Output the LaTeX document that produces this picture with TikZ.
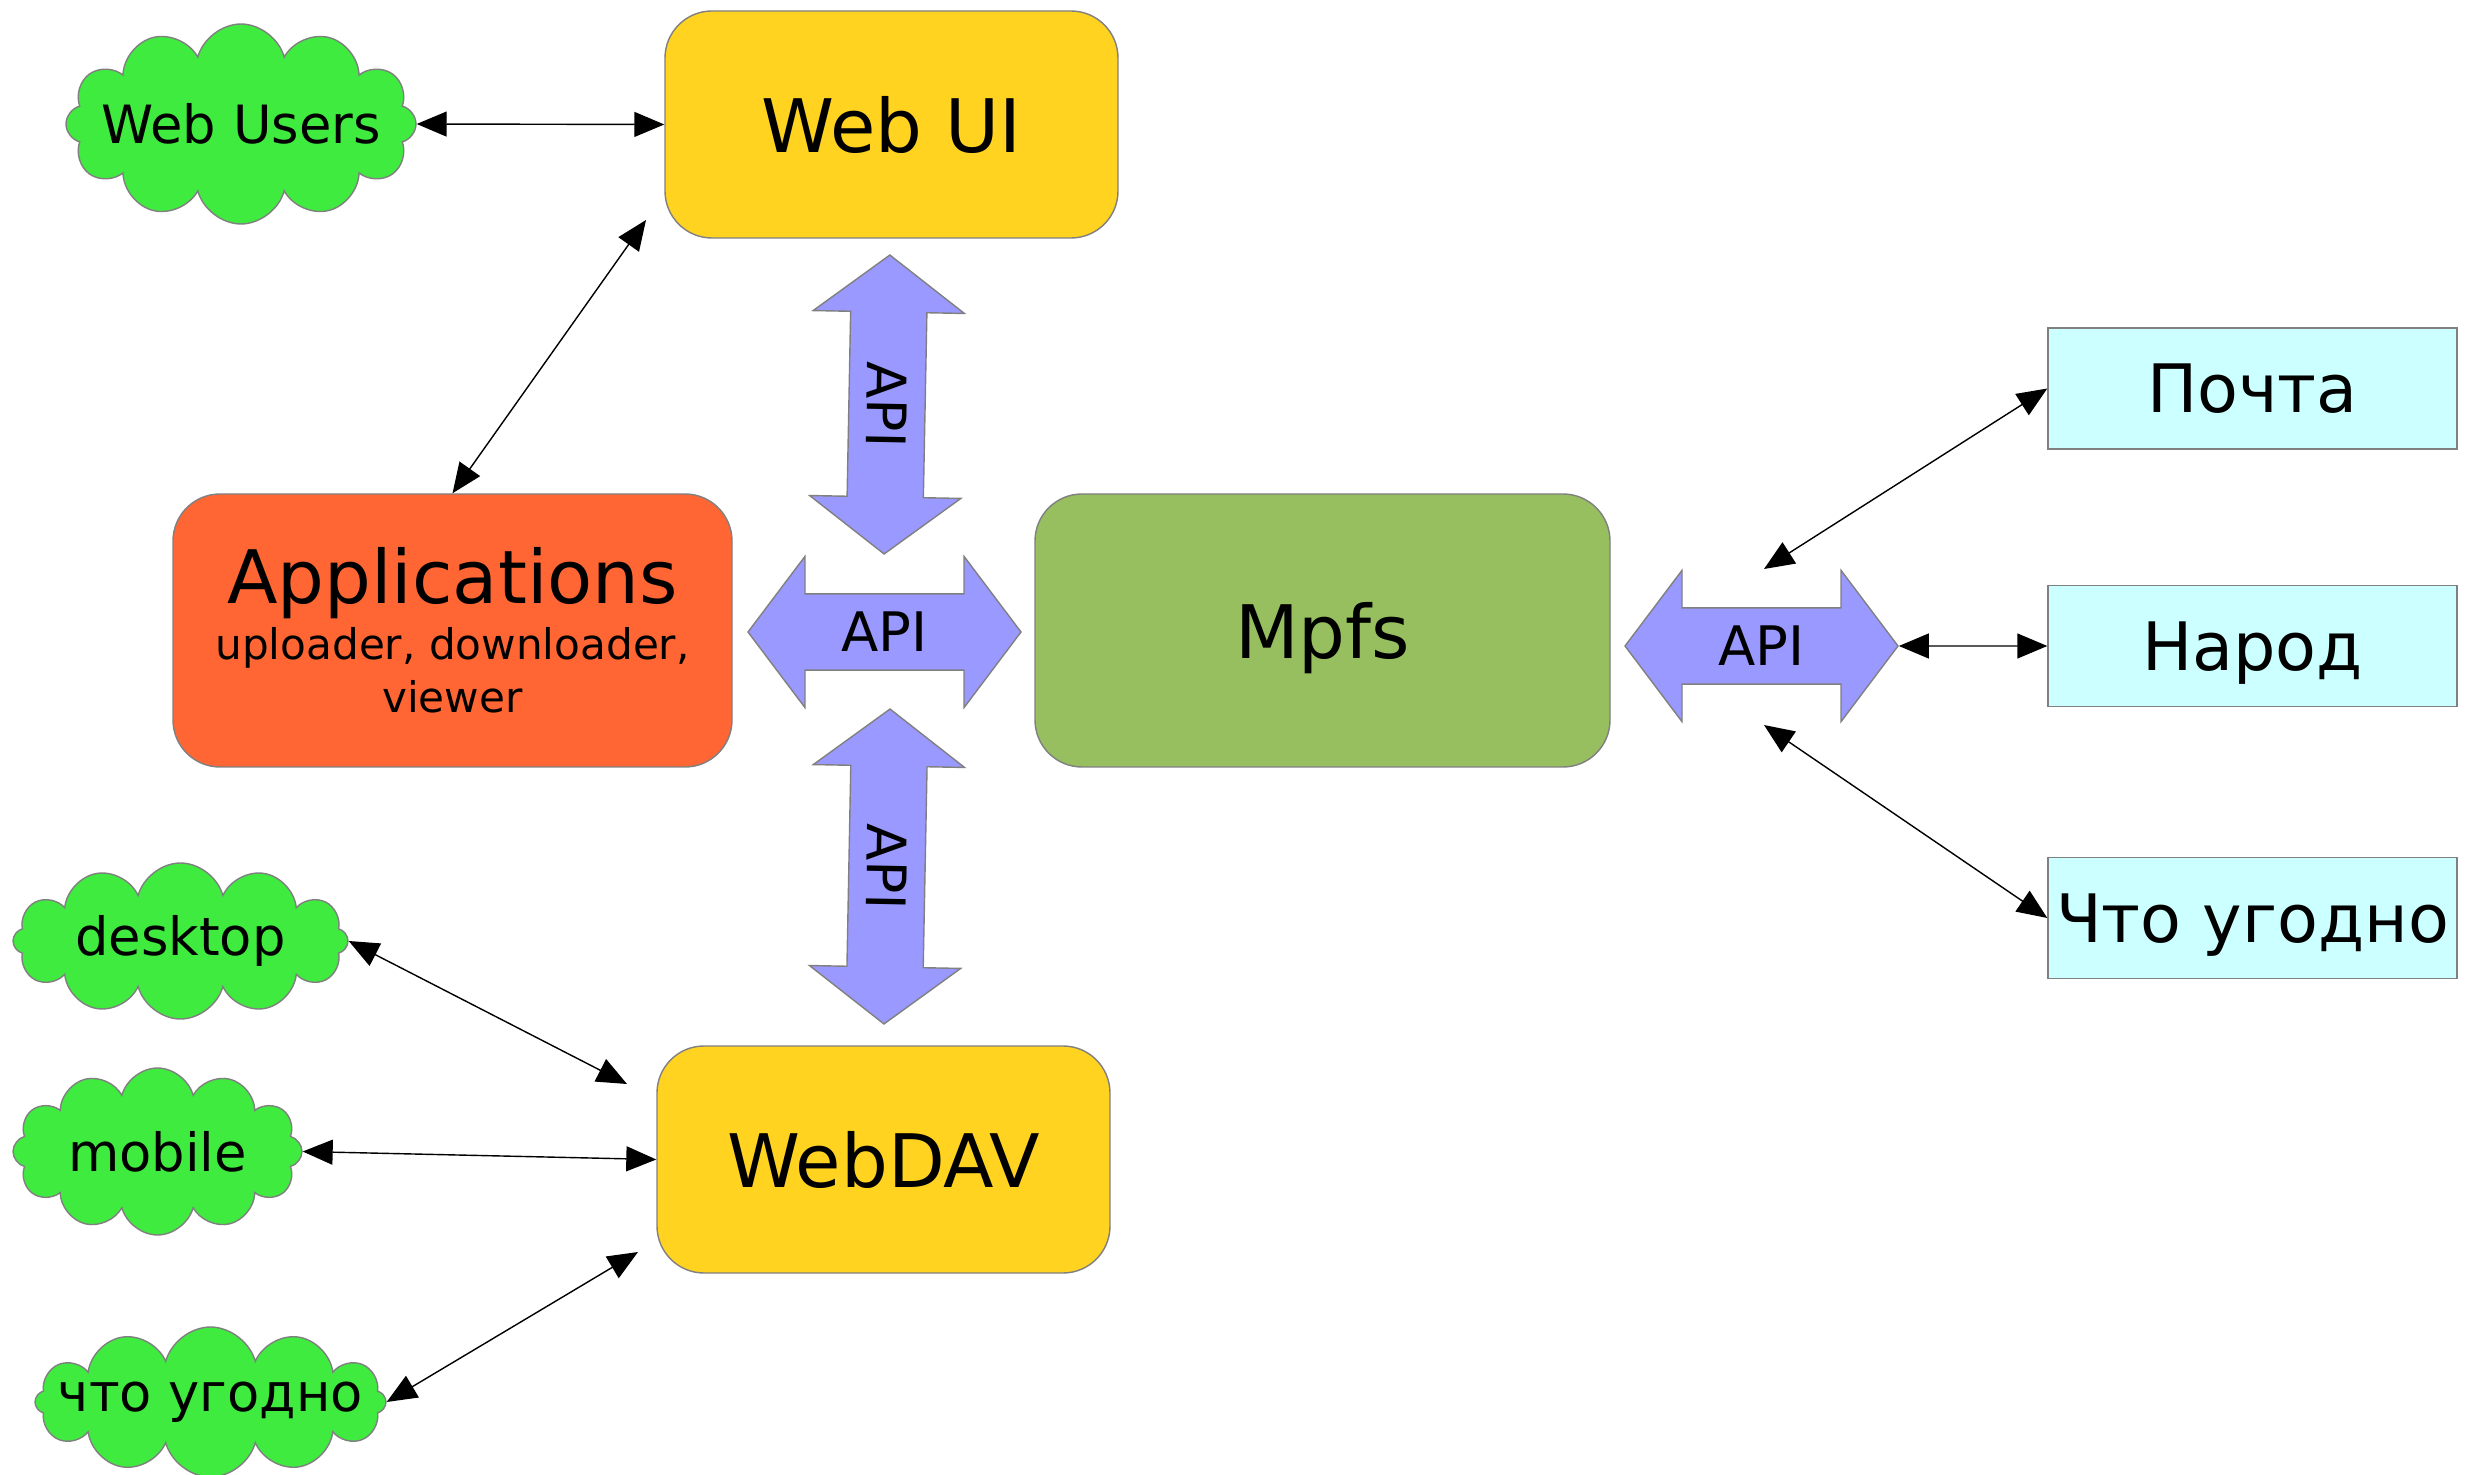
\documentclass[tikz,border=0pt]{standalone}
\usepackage{fontspec}
\setmainfont{DejaVu Sans}
\usetikzlibrary{shapes.symbols,shapes.arrows,arrows.meta}

\definecolor{uiyellow}{HTML}{FFD320}
\definecolor{appred}{HTML}{FF6633}
\definecolor{mpfsgreen}{HTML}{97BF5F}
\definecolor{cloudgreen}{HTML}{3EEB3E}
\definecolor{extcyan}{HTML}{CCFFFF}
\definecolor{apiblue}{HTML}{9999FF}
\newcommand{\subsz}{\fontsize{12}{14.2}\selectfont}

\begin{document}
\begin{tikzpicture}[
    >={Triangle[length=0.3cm,width=0.25cm]},
    srv/.style={draw=gray,fill=#1,rounded corners=0.47cm,inner sep=0pt,
        minimum width=4.53cm,minimum height=2.27cm,font=\fontsize{21}{25}\selectfont},
    ext/.style={draw=gray,fill=extcyan,inner sep=0pt,minimum width=4.09cm,text depth=0pt,
        minimum height=1.21cm,font=\fontsize{19}{23}\selectfont},
    cloudy/.style={cloud,cloud puffs=12,cloud ignores aspect,draw=gray,fill=cloudgreen,
        inner ysep=0pt,inner xsep=-10pt,font=\fontsize{15}{18}\selectfont},
    api/.style={double arrow,draw=gray,fill=apiblue,inner xsep=0pt,inner ysep=5pt,
        double arrow head extend=0.375cm,minimum width=1.51cm,double arrow tip angle=106,
        font=\fontsize{15.5}{18}\selectfont},
    link/.style={<->,line width=0.4pt}
]
    \useasboundingbox (0,0) rectangle (24.70,14.74);

    % servers
    \node[srv=uiyellow] (webui) at (8.915,13.495) {Web UI};
    \node[srv=appred,minimum width=5.59cm,minimum height=2.73cm,align=center] (apps) at (4.525,8.435)
        {Applications\\[-9pt]\subsz uploader, downloader,\\[-10pt] \subsz viewer};
    \node[srv=mpfsgreen,minimum width=5.75cm,minimum height=2.73cm,text depth=0pt] (mpfs) at (13.225,8.435) {Mpfs};
    \node[srv=uiyellow] (webdav) at (8.835,3.145) {WebDAV};

    % API
    \node[api,rotate=-91.1,minimum height=2.99cm] (apitop) at (8.87,10.695) {API};
    \node[api,minimum height=2.73cm] (apimid) at (8.845,8.42) {API};
    \node[api,rotate=-91.1,minimum height=3.15cm] (apibot) at (8.87,6.075) {API};
    \node[api,minimum height=2.73cm] (apiext) at (17.615,8.28) {API};

    % clients
    \node[cloudy,minimum width=3.5cm,minimum height=2.0cm] (webusers) at (2.41,13.5) {Web Users};
    \node[cloudy,minimum width=3.35cm,minimum height=1.56cm] (desktop) at (1.805,5.33) {desktop};
    \node[cloudy,minimum width=2.89cm,minimum height=1.67cm] (mobile) at (1.575,3.225) {mobile};
    \node[cloudy,minimum width=3.51cm,minimum height=1.5cm] (anycl) at (2.105,0.72) {что угодно};

    % storages
    \node[ext] (pochta) at (22.525,10.855) {Почта};
    \node[ext] (narod) at (22.525,8.28) {Народ};
    \node[ext] (anyext) at (22.525,5.56) {Что угодно};

    \coordinate (uicorner) at (6.46,12.54);
    \coordinate (apiup) at (17.64,9.05);
    \coordinate (apidown) at (17.64,7.49);
    \coordinate (davtop) at (6.27,3.90);
    \coordinate (davbot) at (6.38,2.22);

    \draw[link] (webusers.east) -- (webui.west);
    \draw[link] (apps.north) -- (uicorner);
    \draw[link] (apiup) -- (pochta.west);
    \draw[link] (apiext.east) -- (narod.west);
    \draw[link] (apidown) -- (anyext.west);
    \draw[link] (desktop.east) -- (davtop);
    \draw[link] (mobile.east) -- (webdav.west);
    \draw[link] (anycl.east) -- (davbot);
\end{tikzpicture}
\end{document}
